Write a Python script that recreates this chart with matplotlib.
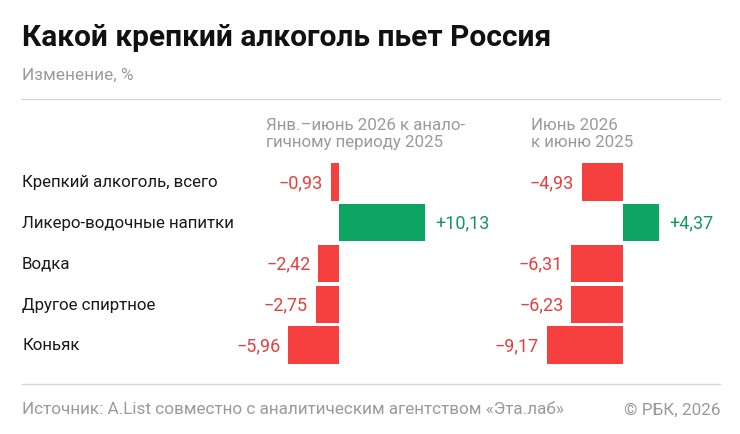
import matplotlib.pyplot as plt

plt.rcParams['font.family'] = ['Roboto', 'DejaVu Sans']

categories = ["Крепкий алкоголь, всего", "Ликеро-водочные напитки", "Водка",
              "Другое спиртное", "Коньяк"]
half_year = [-0.93, 10.13, -2.42, -2.75, -5.96]
june = [-4.93, 4.37, -6.31, -6.23, -9.17]

RED = "#F5403F"
GREEN = "#0EA463"
RED_T = "#E83E3D"
GREEN_T = "#17975A"
GRAY = "#9A9A9A"

W, H = 740, 435
fig = plt.figure(figsize=(W / 100, H / 100), dpi=100)


def px_axes(x0, x1, y0, y1):
    return fig.add_axes([x0 / W, 1 - y1 / H, (x1 - x0) / W, (y1 - y0) / H])


def fmt(v):
    s = f"{abs(v):.2f}".replace(".", ",")
    return ("+" if v > 0 else "\u2212") + s


row0, step = 183, 40.75
ytop, ybot = 160, 370
ylim = ((ybot - row0) / step, (ytop - row0) / step)


def column(values, x0, x1, zero, scale):
    ax = px_axes(x0, x1, ytop, ybot)
    ax.set_xlim(-(zero - x0) / scale, (x1 - zero) / scale)
    ax.set_ylim(*ylim)
    ax.axis("off")
    ax.patch.set_alpha(0)
    pos = range(len(values))
    cols = [GREEN if v > 0 else RED for v in values]
    ax.barh(list(pos), values, height=0.91, color=cols)
    pad = 8 / scale
    for i, v in zip(pos, values):
        if v > 0:
            ax.text(v + pad + 0.3, i, fmt(v), ha="left", va="center", color=GREEN_T, fontsize=13)
        else:
            ax.text(v - pad, i, fmt(v), ha="right", va="center", color=RED_T, fontsize=13)
    return ax


column(half_year, 200, 500, 339, 8.5)
column(june, 470, 730, 623, 8.3)

for i, c in enumerate(categories):
    fig.text(22 / W, 1 - (row0 + step * i) / H, c, ha="left", va="center", fontsize=12.2, color="#1a1a1a")

fig.text(22 / W, 1 - 38 / H, "Какой крепкий алкоголь пьет Россия", fontsize=21.5,
         fontweight="bold", va="center", color="#111111")
fig.text(22 / W, 1 - 75 / H, "Изменение, %", fontsize=12.4, va="center", color=GRAY)
fig.text(266 / W, 1 - 134 / H, "Янв.–июнь 2026 к анало-\nгичному периоду 2025", fontsize=12.2,
         va="center", color=GRAY, linespacing=1.15)
fig.text(531 / W, 1 - 134 / H, "Июнь 2026\nк июню 2025", fontsize=12.2,
         va="center", color=GRAY, linespacing=1.15)

for y in (100, 385):
    fig.add_artist(plt.Line2D([22 / W, 720 / W], [1 - y / H, 1 - y / H], color="#D5D5D5", lw=1))

fig.text(22 / W, 1 - 410 / H, "Источник: A.List совместно с аналитическим агентством «Эта.лаб»",
         fontsize=12.3, va="center", color=GRAY)
fig.text(720 / W, 1 - 410 / H, "© РБК, 2026", fontsize=12.3, va="center", ha="right", color=GRAY)

fig.savefig("out.png", dpi=100)
